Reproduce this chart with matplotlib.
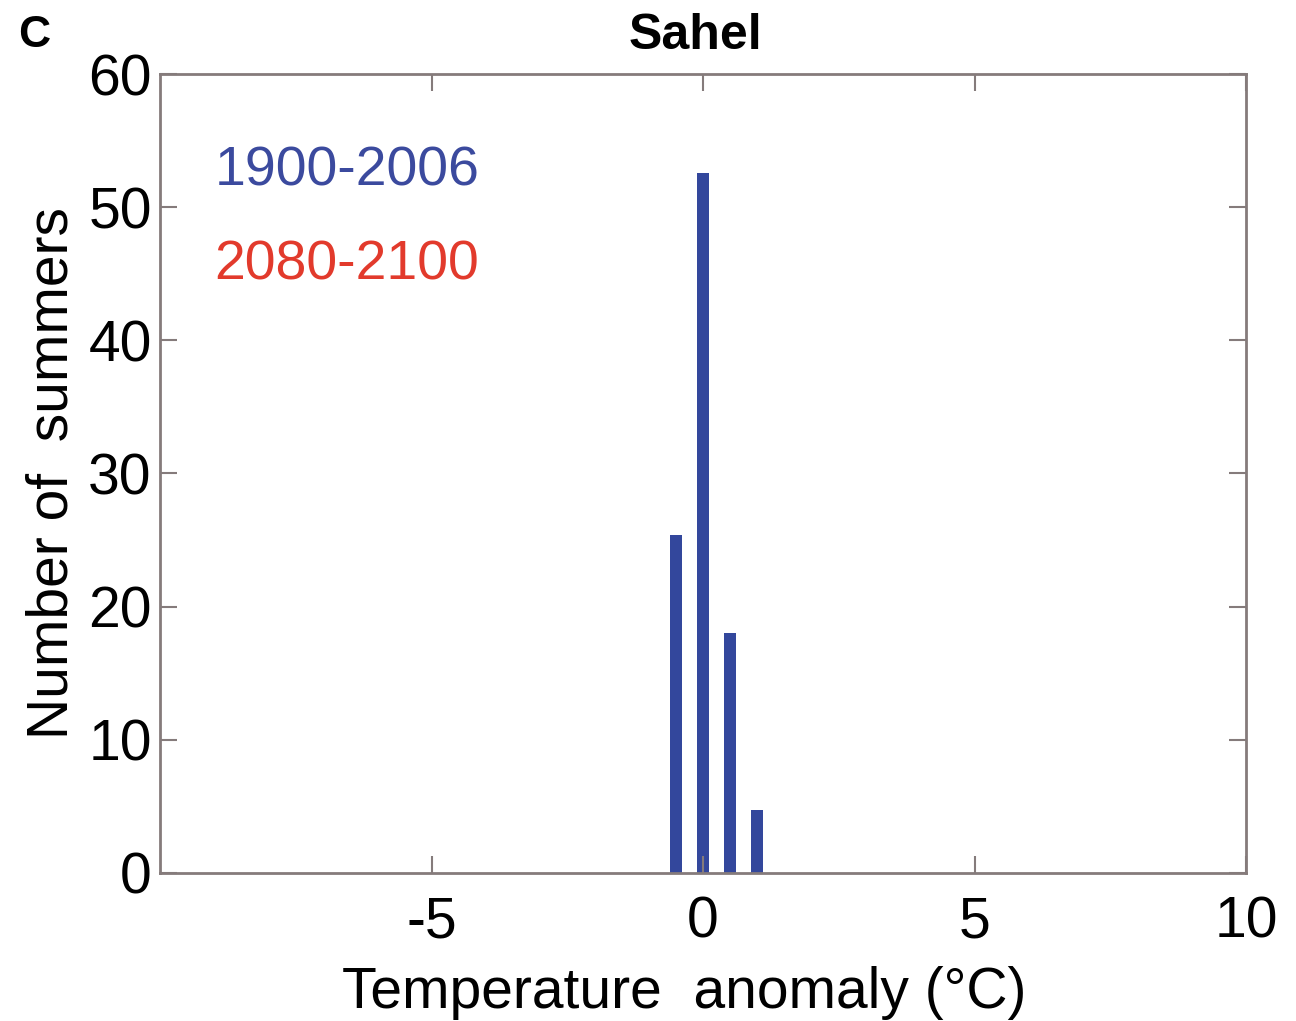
import matplotlib.pyplot as plt
import numpy as np

plt.rcParams['font.family'] = ['Liberation Sans', 'DejaVu Sans']
plt.rcParams['axes.unicode_minus'] = False

# histogram of Sahel summer temperature anomalies
bin_centers = [-0.5, 0.0, 0.5, 1.0]
counts_hist = [25.4, 52.6, 18, 4.7]
periods = ["1900-2006", "2080-2100"]
period_colors = ["#3b4a9e", "#e23a2c"]
x_ticks = [-5, 0, 5, 10]
y_ticks = [0, 10, 20, 30, 40, 50, 60]

fig = plt.figure(figsize=(12.96, 10.21), dpi=100)
ax = fig.add_axes([0.1235, 0.145, 0.838, 0.7825])

ax.bar(bin_centers, counts_hist, width=0.22, color="#33479c", edgecolor="none")

ax.set_xlim(-10, 10)
ax.set_ylim(0, 60)
ax.set_xticks(x_ticks)
ax.set_yticks(y_ticks)
ax.tick_params(direction="in", length=12, width=1.5, color="#857b7b",
               labelsize=41, top=True, right=True)
ax.tick_params(axis="x", pad=16)
ax.tick_params(axis="y", pad=6)
for s in ax.spines.values():
    s.set_color("#857b7b")
    s.set_linewidth(2)

ax.set_xlabel("Temperature  anomaly (°C)", fontsize=41, labelpad=12, x=0.483)
ax.set_ylabel("Number of  summers", fontsize=41, labelpad=6)
ax.set_title("Sahel", fontsize=36, fontweight="bold", pad=18, x=0.493)

# legend as coloured text
ax.text(0.05, 0.878, periods[0], color=period_colors[0], fontsize=40,
        transform=ax.transAxes, va="center")
ax.text(0.05, 0.760, periods[1], color=period_colors[1], fontsize=40,
        transform=ax.transAxes, va="center")

fig.text(0.014, 0.965, "C", fontsize=32, fontweight="bold", va="center")

fig.savefig("out.png", dpi=100)
